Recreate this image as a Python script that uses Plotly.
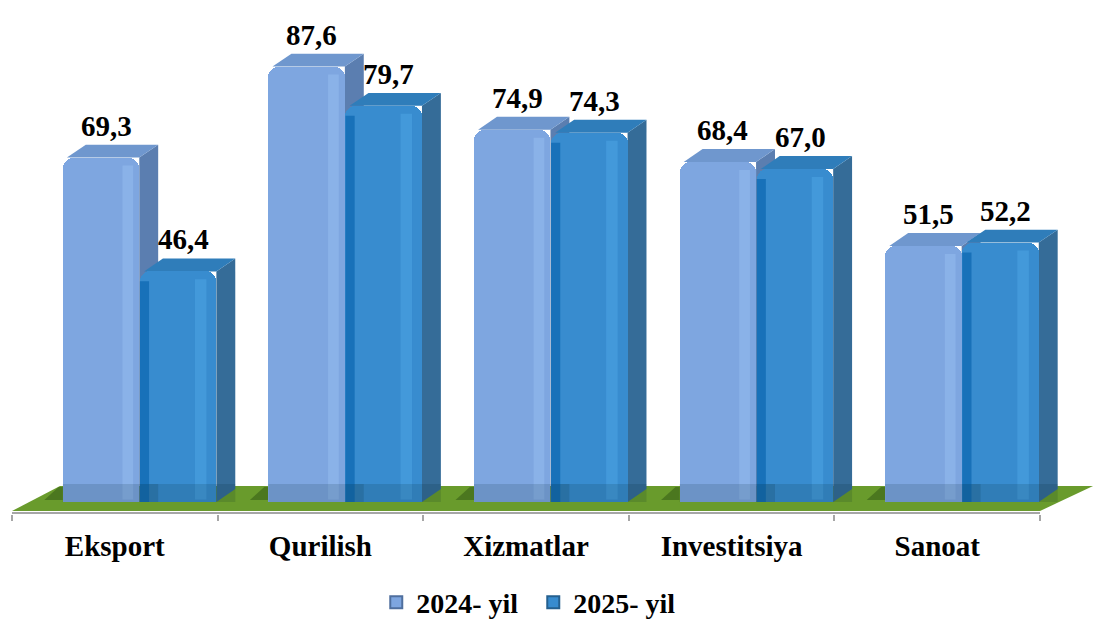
import plotly.graph_objects as go

categories = ["Eksport", "Qurilish", "Xizmatlar", "Investitsiya", "Sanoat"]
series_names = ["2024- yil", "2025- yil"]
values_2024 = [69.3, 87.6, 74.9, 68.4, 51.5]
values_2025 = [46.4, 79.7, 74.3, 67.0, 52.2]

series_values = [values_2024, values_2025]

BAR_W = 0.372
OFFSETS = [-0.253, 0.122]
DX = 0.092
DY = 2.6
FONT = "Liberation Serif"

styles = [
    dict(front="#7EA6E0", side="#5B7EB0", top="#6F97CE",
         hi="rgba(160,200,246,0.35)", dark=None, swatch_line="#4F6F9E"),
    dict(front="#388CCF", side="#356C98", top="#2F7DBA",
         hi="rgba(85,172,236,0.4)", dark="rgba(14,104,178,0.75)", swatch_line="#25608F"),
]

fig = go.Figure()
shapes = []

# floor
shapes.append(dict(type="path", xref="x", yref="y", layer="below",
                   path="M -0.5,-1.81 L 4.5,-1.81 L 4.758,3.22 L -0.2665,3.22 Z",
                   fillcolor="#699B2C", line=dict(width=0)))
# soft shadows on the floor, left of each group
for i in range(len(categories)):
    x0 = i + OFFSETS[0]
    shapes.append(dict(type="path", xref="x", yref="y", layer="below",
                       path=f"M {x0-0.09},0.4 L {x0},0.4 L {x0},3.0 L {x0-0.02},3.0 Z",
                       fillcolor="rgba(40,75,15,0.45)", line=dict(width=0)))
# front edge line of floor
shapes.append(dict(type="line", xref="x", yref="y", layer="below",
                   x0=-0.5, x1=4.5, y0=-2.3, y1=-2.3,
                   line=dict(color="#A6A6A6", width=3)))

for s, vals in enumerate(series_values):
    st = styles[s]
    for i, v in enumerate(vals):
        x0 = i + OFFSETS[s]
        x1 = x0 + BAR_W
        # side face
        shapes.append(dict(type="path", xref="x", yref="y", layer="below",
                           path=f"M {x1},0 L {x1},{v} L {x1+DX},{v+DY} L {x1+DX},{DY} Z",
                           fillcolor=st["side"], line=dict(width=0)))
        # top face
        shapes.append(dict(type="path", xref="x", yref="y", layer="below",
                           path=f"M {x0+0.02},{v} L {x1},{v} L {x1+DX},{v+DY} L {x0+DX+0.02},{v+DY} Z",
                           fillcolor=st["top"], line=dict(width=0)))

for s, vals in enumerate(series_values):
    st = styles[s]
    fig.add_trace(go.Bar(
        x=categories, y=vals, name=series_names[s], showlegend=False,
        offset=OFFSETS[s], width=BAR_W,
        marker=dict(color=st["front"], line=dict(width=0), cornerradius=10),
        hoverinfo="skip",
    ))
    # legend entry with a square swatch
    fig.add_trace(go.Scatter(
        x=[None], y=[None], mode="markers", name=series_names[s],
        marker=dict(symbol="square", size=13, color=st["front"],
                    line=dict(color=st["swatch_line"], width=1.5)),
        hoverinfo="skip",
    ))
    for i, v in enumerate(vals):
        x0 = i + OFFSETS[s]
        w = BAR_W
        # highlight strip
        hx0 = x0 + w * (0.78 if s == 0 else 0.72)
        hx1 = x0 + w * (0.92 if s == 0 else 0.87)
        shapes.append(dict(type="rect", xref="x", yref="y", layer="above",
                           x0=hx0, x1=hx1, y0=0.5, y1=v - 1.6,
                           fillcolor=st["hi"], line=dict(width=0)))
        if st["dark"]:
            shapes.append(dict(type="rect", xref="x", yref="y", layer="above",
                               x0=x0, x1=x0 + w * 0.12, y0=0, y1=v - 2.0,
                               fillcolor=st["dark"], line=dict(width=0)))
        # translucent base band
        shapes.append(dict(type="rect", xref="x", yref="y", layer="above",
                           x0=x0, x1=x0 + w + DX, y0=0, y1=3.6,
                           fillcolor="rgba(0,35,40,0.14)", line=dict(width=0)))
        # value label
        fig.add_annotation(x=x0 + w / 2 + 0.025, y=v + DY, xref="x", yref="y",
                           text=f"{v:.1f}".replace(".", ","), showarrow=False,
                           yanchor="bottom", yshift=1,
                           font=dict(family=FONT, size=29, color="black", weight="bold"))

fig.update_layout(
    width=1095, height=620,
    margin=dict(l=12, r=0, t=0, b=106),
    paper_bgcolor="white", plot_bgcolor="white",
    barmode="overlay", bargap=0,
    shapes=shapes,
    showlegend=True,
    legend=dict(orientation="h", xref="container", yref="container",
                x=0.487, y=0.028, xanchor="center", yanchor="middle",
                entrywidth=112, entrywidthmode="pixels",
                font=dict(family=FONT, size=28, color="black", weight="bold"),
                itemsizing="constant", traceorder="normal"),
    xaxis=dict(type="category", range=[-0.5, 4.7675], showgrid=False, zeroline=False,
               showline=False, tickson="boundaries", ticks="outside", ticklen=6,
               tickwidth=2, tickcolor="#A6A6A6", ticklabelstandoff=12,
               tickfont=dict(family=FONT, size=29, color="black", weight="bold"),
               fixedrange=True),
    yaxis=dict(range=[-2.414, 101.0], visible=False, fixedrange=True),
)

fig.write_html("out.html", config={"displayModeBar": False},
               post_script="document.body.style.margin='0';document.body.style.overflow='hidden';")
